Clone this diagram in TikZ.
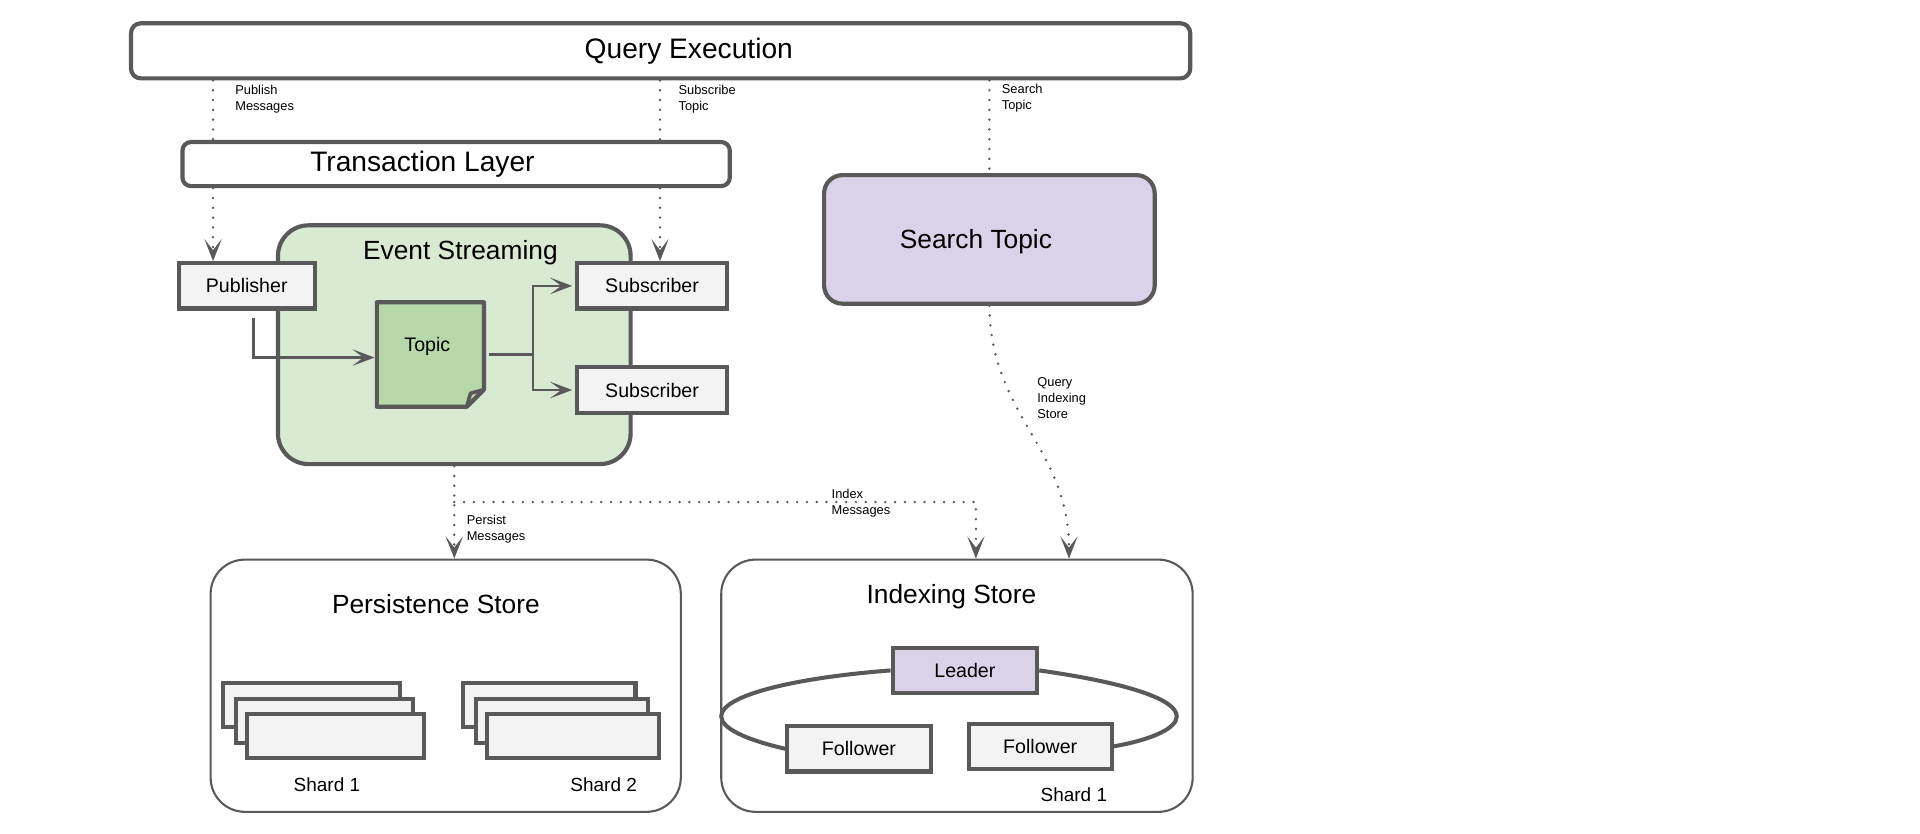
\documentclass[tikz,border=0pt]{standalone}
\usepackage{fontspec}
\setmainfont{Liberation Sans}
\usetikzlibrary{arrows.meta, positioning}
\definecolor{edgegray}{HTML}{595959}
\definecolor{boxgray}{HTML}{F3F3F3}
\definecolor{streamgreen}{HTML}{D9EAD3}
\definecolor{topicgreen}{HTML}{B6D7A8}
\definecolor{lavender}{HTML}{D9D2E9}
\tikzset{
  layer/.style = {draw=edgegray, line width=3.4pt, rounded corners=#1,
      fill=white, inner sep=0pt},
  layer/.default = 8pt, % corner radius
  store/.style = {draw=edgegray, line width=1.7pt, rounded corners=28pt,
      fill=white, inner sep=0pt},
  box/.style = {draw=edgegray, line width=3.4pt, fill=boxgray,
      inner sep=0pt, font=\fontsize{16}{19}\selectfont},
  shard/.style = {draw=edgegray, line width=3.4pt, fill=boxgray},
  ring/.style = {draw=edgegray, line width=3.3pt},
  head/.style = {font=\fontsize{23}{27}\selectfont, inner sep=0pt},
  title/.style = {font=\fontsize{21.5}{25}\selectfont, inner sep=0pt},
  shardtext/.style = {font=\fontsize{15.5}{18}\selectfont, inner sep=0pt},
  note/.style = {font=\fontsize{10.5}{13}\selectfont, align=left,
      anchor=north west, inner sep=0pt},
  dots/.style = {draw=edgegray, line width=2.2pt, line cap=round,
      dash pattern=on 0pt off 8pt},
  msg/.style = {dots, -{Stealth[length=18pt, width=14pt, inset=9pt]}},
  link/.style = {draw=edgegray, line width=2pt,
      -{Stealth[length=18pt, width=13.5pt, inset=9pt]}},
}

\begin{document}
\begin{tikzpicture}[x=1pt, y=-1pt]
  \useasboundingbox (0,0) rectangle (1568,681);

  \node[layer, minimum width=865, minimum height=45,
    label={[head, xshift=23pt]center:Query Execution}] (qe) at (539.5,41.5) {};
  \node[layer=7pt, minimum width=447, minimum height=36,
    label={[head, xshift=-27.5pt]center:Transaction Layer}] (tl) at (372.5,134) {};
  \node[layer=15pt, fill=lavender, minimum width=270, minimum height=105,
    label={[title, xshift=-11pt, yshift=-1.5pt]center:Search Topic}] (st) at (808,195.5) {};

  \node[layer=25pt, fill=streamgreen, minimum width=288, minimum height=195] (es) at (371,281.5) {};
  \node[title] (estitle) at (376,206) {Event Streaming};

  \node[box, minimum width=111, minimum height=37] (pub) at (201.5,233.5) {Publisher};
  \node[box, minimum width=123, minimum height=37] (sub1) at (532.5,233.5) {Subscriber};
  \node[box, minimum width=123, minimum height=37] (sub2) at (532.5,318.5) {Subscriber};

  % topic sheet with folded corner
  \node[minimum width=87, minimum height=85, inner sep=0pt] (topic) at (351.5,289.5) {};
  \draw[box, fill=topicgreen, line join=round]
    (topic.north west) -- (topic.north east) -- ([yshift=14pt]topic.south east)
    -- ([xshift=-14pt]topic.south east) -- (topic.south west) -- cycle;
  \draw[draw=edgegray, line width=3pt, line join=round]
    ([xshift=-14pt]topic.south east) -- ([xshift=-11pt, yshift=11pt]topic.south east)
    -- ([yshift=14pt]topic.south east);
  \node[font=\fontsize{16}{19}\selectfont, inner sep=0pt] (topictext) at (349,283) {Topic};

  \node[store, minimum width=384, minimum height=206] (ps) at (364,560) {};
  \node[title] (pstitle) at (356,493) {Persistence Store};
  \node[store, minimum width=385, minimum height=206] (is) at (781.5,560) {};
  \node[title] (istitle) at (777,487) {Indexing Store};

  \foreach \sx/\sw in {182/145, 378/141}
    \foreach \dx/\dy in {0/0, 10.5/13, 19.5/25}
      \draw[shard] (\sx+\dx, 558+\dy) rectangle ++(\sw, 36);
  \node[shardtext] (sh1) at (267,641) {Shard 1};
  \node[shardtext] (sh2) at (493,641) {Shard 2};

  \node[box, fill=lavender, minimum width=118, minimum height=37] (lead) at (788,547.5) {Leader};
  \node[box, minimum width=117, minimum height=37] (fol1) at (701.5,611.5) {Follower};
  \node[box, minimum width=117, minimum height=37] (fol2) at (849.5,609.5) {Follower};
  \node[shardtext] (sh3) at (877,649) {Shard 1};

  % replication ring
  \draw[ring] (fol1.west) .. controls (608.4,603.9) and (589,594.6) .. (589,585)
    .. controls (589,568.3) and (646.7,553.7) .. (lead.west);
  \draw[ring] (lead.east) .. controls (916,557) and (961,570.3) .. (961,585)
    .. controls (961,594.5) and (942,603.7) .. (fol2.east);

  % messages between layers
  \coordinate (pubx) at (174,0);
  \coordinate (subx) at (539,0);
  \coordinate (perx) at (371,0);
  \coordinate (idxx) at (797,0);
  \coordinate (qryx) at (873,0);
  \coordinate (split) at (371,410);

  \draw[dots] (pubx |- qe.south) -- (pubx |- tl.north);
  \draw[msg] (pubx |- tl.south) -- (pubx |- pub.north);
  \draw[dots] (subx |- qe.south) -- (subx |- tl.north);
  \draw[msg] (subx |- tl.south) -- (subx |- sub1.north);
  \draw[dots] (st.north |- qe.south) -- (st.north);

  \draw[msg] (perx |- es.south) -- (perx |- ps.north);
  \draw[msg] (split) -| (idxx |- is.north);
  \draw[msg] (st.south) .. controls (809,340) and (873,365) .. (qryx |- is.north);

  \node[note] (lpub) at (192,69.5) {Publish\\Messages};
  \node[note] (lsub) at (554,69.5) {Subscribe\\Topic};
  \node[note] (lsearch) at (818,68.5) {Search\\Topic};
  \node[note] (lquery) at (847,308.5) {Query\\Indexing\\Store};
  \node[note] (lpersist) at (381,420.5) {Persist\\Messages};
  \node[note] (lindex) at (679,399.5) {Index\\Messages};

  % flow inside the event streaming
  \coordinate (fork) at ([xshift=40pt]topic.east);
  \draw[link] ([xshift=5.5pt, yshift=-6pt]pub.south) |- ([xshift=-2pt, yshift=-2.5pt]topic.west);
  \draw[draw=edgegray, line width=2pt] ([xshift=4pt]topic.east) -- (fork);
  \draw[link] (fork) |- ([xshift=-2pt]sub1.west);
  \draw[link] (fork) |- ([xshift=-2pt]sub2.west);
\end{tikzpicture}
\end{document}
